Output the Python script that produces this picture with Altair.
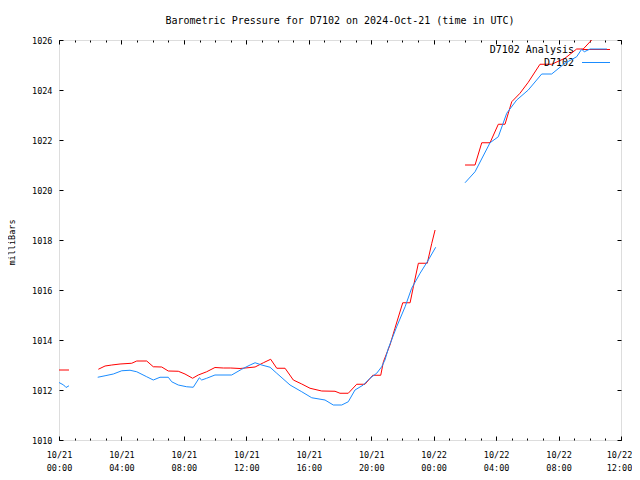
import altair as alt
import pandas as pd

TITLE = "Barometric Pressure for D7102 on 2024-Oct-21 (time in UTC)"
Y_TITLE = "milliBars"
SERIES = ["D7102 Analysis", "D7102"]
COLORS = ["#ff0000", "#1a8cff"]
MONO = "DejaVu Sans Mono"

START = pd.Timestamp("2024-10-21T00:00:00Z")
X_RANGE_HOURS = [0, 36]
Y_DOMAIN = [1010, 1026]
Y_TICKS = [1010, 1012, 1014, 1016, 1018, 1020, 1022, 1024, 1026]
MAJOR_STEP_H = 4

# hours since 2024-10-21 00:00 UTC
analysis_hours = [0.0, 0.64,
                  2.52, 2.95, 3.38, 3.91, 4.66, 4.98, 5.62, 6.04, 6.58, 7.0, 7.64, 8.07,
                  8.56, 8.92, 9.46, 9.99, 10.53, 11.0, 11.6, 12.56, 13.09, 13.56, 13.95,
                  14.48, 15.01, 15.55, 16.08, 16.83, 17.68, 18.0, 18.53, 19.07, 19.6, 20.1,
                  20.61, 20.78, 21.2, 21.52, 22.02, 22.49, 22.7, 23.02, 23.59, 23.88, 24.09,
                  26.01, 26.65, 27.08, 27.61, 28.14, 28.57, 29.0, 29.53, 30.06, 30.81,
                  31.56, 32.41, 33.16, 33.58, 34.12, 34.6]
analysis_values = [1012.8, 1012.8,
                   1012.83, 1012.96, 1013.0, 1013.04, 1013.07, 1013.16, 1013.16, 1012.93,
                   1012.92, 1012.76, 1012.75, 1012.64, 1012.47, 1012.6, 1012.73, 1012.9,
                   1012.88, 1012.88, 1012.86, 1012.92, 1013.09, 1013.23, 1012.87, 1012.87,
                   1012.4, 1012.24, 1012.07, 1011.96, 1011.95, 1011.87, 1011.87, 1012.23,
                   1012.23, 1012.59, 1012.59, 1013.13, 1013.8, 1014.47, 1015.49, 1015.49,
                   1016.13, 1017.07, 1017.07, 1017.87, 1018.4,
                   1021.0, 1021.0, 1021.89, 1021.89, 1022.63, 1022.63, 1023.53, 1023.87,
                   1024.31, 1025.03, 1025.03, 1025.27, 1025.64, 1025.64, 1026.0, 1026.5]

obs_hours = [0.0, 0.3, 0.45, 0.64,
             2.48, 2.95, 3.48, 4.02, 4.55, 4.98, 5.62, 6.04, 6.47, 7.0, 7.22, 7.64, 8.18,
             8.6, 8.99, 9.14, 9.46, 9.99, 11.06, 11.7, 12.24, 12.56, 12.99, 13.52, 13.95,
             14.8, 15.55, 16.19, 17.04, 17.57, 18.11, 18.53, 18.96, 19.49, 19.92, 20.35,
             20.67, 20.88, 21.1, 21.63, 22.17, 22.59, 23.13, 23.66, 24.13,
             26.01, 26.65, 27.61, 28.14, 28.68, 29.32, 30.06, 30.92, 31.56, 32.41, 33.16,
             33.48, 33.65, 34.02, 35.1]
obs_values = [1012.3, 1012.2, 1012.1, 1012.17,
              1012.51, 1012.57, 1012.64, 1012.77, 1012.79, 1012.73, 1012.53, 1012.4,
              1012.51, 1012.51, 1012.33, 1012.2, 1012.13, 1012.11, 1012.49, 1012.4,
              1012.47, 1012.6, 1012.6, 1012.83, 1013.0, 1013.09, 1013.0, 1012.91, 1012.67,
              1012.2, 1011.93, 1011.69, 1011.6, 1011.4, 1011.4, 1011.53, 1012.0, 1012.2,
              1012.47, 1012.67, 1012.93, 1013.2, 1013.67, 1014.53, 1015.33, 1016.07,
              1016.67, 1017.2, 1017.71,
              1020.29, 1020.73, 1021.89, 1022.13, 1023.07, 1023.6, 1024.0, 1024.64,
              1024.64, 1025.07, 1025.33, 1025.63, 1025.53, 1025.64, 1025.64]


def to_iso(h):
    return (START + pd.Timedelta(hours=h)).strftime("%Y-%m-%dT%H:%M:%SZ")


def to_ms(h):
    return int((START + pd.Timedelta(hours=h)).value // 10**6)


def build(hours, values, name):
    seg, rows = 0, []
    for i, (h, v) in enumerate(zip(hours, values)):
        if i > 0 and h - hours[i - 1] > 1.5:
            seg += 1
        rows.append({"time": to_iso(h), "p": v, "seg": seg, "series": name})
    return pd.DataFrame(rows)


df_an = build(analysis_hours, analysis_values, SERIES[0])
df_ob = build(obs_hours, obs_values, SERIES[1])

major = [to_ms(h) for h in range(X_RANGE_HOURS[0], X_RANGE_HOURS[1] + 1, MAJOR_STEP_H)]
minor = [to_ms(h) for h in range(X_RANGE_HOURS[0], X_RANGE_HOURS[1] + 1)]
x_scale = alt.Scale(type="utc", domain=[to_ms(X_RANGE_HOURS[0]), to_ms(X_RANGE_HOURS[1])])
y_scale = alt.Scale(domain=Y_DOMAIN, nice=False, zero=False)

common_axis = dict(domain=False, grid=False, tickColor="black", tickWidth=1, title=None)


def x_axis(orient, values, size, labels):
    kw = dict(common_axis, orient=orient, values=values, offset=-size, tickSize=size,
              labels=labels)
    if labels:
        kw.update(labelExpr="[utcFormat(datum.value, '%m/%d'), utcFormat(datum.value, '%H:%M')]",
                  labelFont=MONO, labelFontSize=8.5, labelColor="black", labelPadding=10,
                  labelLineHeight=13, labelFlush=False, labelOverlap=False, labelBound=False,
                  labelOffset={"condition": {"test": f"datum.value >= {values[-1]}",
                                             "value": -2}, "value": 0})
    return alt.Axis(**kw)


def y_axis(orient, labels):
    kw = dict(common_axis, orient=orient, values=Y_TICKS, offset=-4, tickSize=4, labels=labels)
    if labels:
        kw.update(format="d", labelFont=MONO, labelFontSize=8.5, labelColor="black",
                  labelPadding=7, labelFlush=False, labelOverlap=False, title=Y_TITLE,
                  titleFont=MONO, titleFontSize=8.5, titleFontWeight="normal",
                  titleColor="black", titleAngle=-90, titleX=-52, titleY=202,
                  titleAlign="center", titleBaseline="middle")
    return alt.Axis(**kw)


def line(df, color, xax, yax, opacity=1.0):
    return alt.Chart(df).mark_line(color=color, strokeWidth=1, clip=True,
                                   strokeOpacity=opacity, interpolate="linear").encode(
        x=alt.X("time:T", scale=x_scale, axis=xax),
        y=alt.Y("p:Q", scale=y_scale, axis=yax),
        detail="seg:N",
    )


red = line(df_an, COLORS[0], x_axis("bottom", major, 4, True), y_axis("left", True))
blue = line(df_ob, COLORS[1], x_axis("top", major, 4, False), y_axis("right", False))
minor_bottom = line(df_ob, COLORS[1], x_axis("bottom", minor, 2, False), None, 0.0)
minor_top = line(df_ob, COLORS[1], x_axis("top", minor, 2, False), None, 0.0)

leg_df = [pd.DataFrame({"name": [SERIES[i]]}) for i in range(2)]


def leg_text(i, y):
    return alt.Chart(leg_df[i]).mark_text(align="right", baseline="middle", font=MONO,
                                          fontSize=10, color="black").encode(
        x=alt.value(515), y=alt.value(y), text="name:N")


def leg_rule(i, y):
    return alt.Chart(leg_df[i]).mark_rule(color=COLORS[i], strokeWidth=1).encode(
        x=alt.value(523), x2=alt.value(551), y=alt.value(y))


chart = alt.layer(
    minor_bottom, minor_top,
    leg_text(0, 10), leg_rule(0, 9.5), red,
    leg_text(1, 23), leg_rule(1, 22.5), blue,
).resolve_axis(x="independent", y="independent").properties(
    width=562, height=400,
    title=alt.Title(TITLE, font=MONO, fontSize=10, fontWeight="normal", color="black",
                    anchor="middle", baseline="alphabetic", offset=2),
    autosize=alt.AutoSizeParams(type="none"),
    padding={"left": 51, "top": 32, "right": 11, "bottom": 32},
).configure_view(stroke="black", strokeWidth=1).configure(background="white")

chart.save("out.html", embed_options={"renderer": "svg", "actions": False})
